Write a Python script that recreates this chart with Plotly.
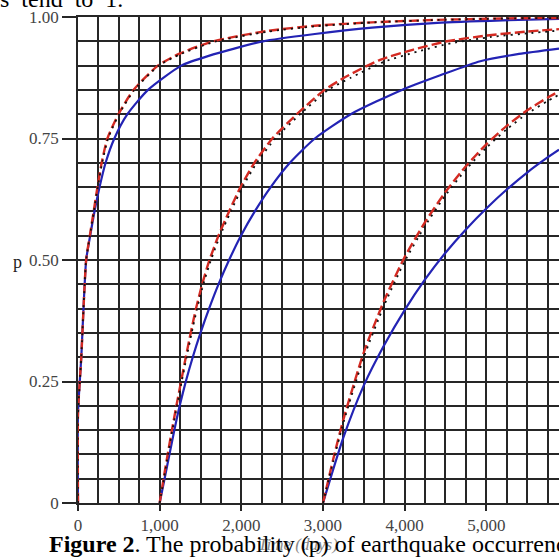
import plotly.graph_objects as go

# ---- data ----
# group 1 (starts at t = 0)
g1_blue_t = [0, 0, 40, 100, 149, 202, 264, 338, 445, 605, 857, 1265, 1600, 2265, 2900, 3600, 4400, 5200, 5890]
g1_blue_p = [0, 0.185, 0.30, 0.50, 0.55, 0.60, 0.65, 0.70, 0.75, 0.80, 0.85, 0.90, 0.92, 0.95, 0.965, 0.978, 0.988, 0.993, 0.996]
g1_red_t = [0, 0, 40, 100, 145, 192, 238, 290, 360, 495, 680, 979, 1250, 1654, 2309, 2900, 3600, 4400, 5200, 5890]
g1_red_p = [0, 0.185, 0.30, 0.50, 0.55, 0.60, 0.65, 0.70, 0.75, 0.80, 0.85, 0.90, 0.925, 0.95, 0.971, 0.982, 0.989, 0.994, 0.997, 0.998]
g1_blk_t = [0, 0, 40, 100, 146, 194, 242, 296, 368, 503, 690, 990, 1262, 1670, 2330, 2920, 3620, 4420, 5220, 5890]
g1_blk_p = [0, 0.18, 0.30, 0.50, 0.55, 0.60, 0.65, 0.70, 0.75, 0.80, 0.85, 0.90, 0.924, 0.949, 0.970, 0.981, 0.989, 0.994, 0.997, 0.998]

# group 2 (starts at t = 1000)
g2_blue_t = [1000, 1060, 1120, 1180, 1245, 1320, 1405, 1500, 1605, 1720, 1850, 1995, 2165, 2360, 2595, 2900, 3340, 3966, 4436, 4926, 5400, 5890]
g2_blue_p = [0, 0.05, 0.10, 0.15, 0.20, 0.25, 0.30, 0.35, 0.40, 0.45, 0.50, 0.55, 0.60, 0.65, 0.70, 0.75, 0.80, 0.85, 0.88, 0.909, 0.924, 0.935]
g2_red_t = [1000, 1048, 1098, 1150, 1205, 1262, 1320, 1380, 1445, 1520, 1610, 1720, 1850, 1990, 2160, 2380, 2680, 3020, 3291, 3699, 4108, 4518, 5009, 5499, 5890]
g2_red_p = [0, 0.05, 0.10, 0.15, 0.20, 0.25, 0.30, 0.35, 0.40, 0.45, 0.50, 0.55, 0.60, 0.65, 0.70, 0.75, 0.80, 0.85, 0.878, 0.912, 0.933, 0.95, 0.962, 0.970, 0.975]
g2_blk_t = [1000, 1052, 1103, 1156, 1212, 1270, 1330, 1392, 1458, 1535, 1628, 1740, 1872, 2015, 2190, 2415, 2720, 3065, 3340, 3750, 4160, 4570, 5060, 5550, 5890]
g2_blk_p = [0, 0.05, 0.10, 0.15, 0.20, 0.25, 0.30, 0.35, 0.40, 0.45, 0.50, 0.55, 0.60, 0.65, 0.70, 0.75, 0.80, 0.85, 0.875, 0.908, 0.929, 0.946, 0.959, 0.967, 0.972]

# group 3 (starts at t = 3000)
g3_blue_t = [3000, 3250, 3500, 3750, 4000, 4250, 4500, 4750, 5000, 5250, 5500, 5750, 5890]
g3_blue_p = [0, 0.135, 0.242, 0.325, 0.397, 0.460, 0.515, 0.563, 0.606, 0.645, 0.680, 0.711, 0.727]
g3_red_t = [3000, 3125, 3250, 3500, 3750, 4000, 4250, 4500, 4750, 5000, 5250, 5500, 5750, 5890]
g3_red_p = [0, 0.090, 0.172, 0.310, 0.417, 0.506, 0.578, 0.640, 0.693, 0.738, 0.776, 0.808, 0.834, 0.847]
g3_blk_t = [3000, 3125, 3250, 3500, 3750, 4000, 4250, 4500, 4750, 5000, 5250, 5500, 5750, 5890]
g3_blk_p = [0, 0.085, 0.165, 0.300, 0.407, 0.497, 0.570, 0.633, 0.686, 0.731, 0.769, 0.801, 0.827, 0.840]

y_tickvals = [0, 0.25, 0.5, 0.75, 1.0]
y_ticktext = ["0", "0.25", "0.50", "0.75", "1.00"]
x_tickvals = [0, 1000, 2000, 3000, 4000, 5000]
x_ticktext = ["0", "1,000", "2,000", "3,000", "4,000", "5,000"]

caption_bold = "Figure 2"
caption_rest = ". The probability (p) of earthquake occurrence"
top_text = "s\u00a0\u00a0tend\u00a0\u00a0to\u00a0\u00a01."
x_title = "Time (days)"
y_title = "p"

W, H = 559, 557
ML, MR, MT, MB = 78, 0, 17, 54
XMAX = 5890

BLUE = "#2323b4"
RED = "#d42a22"
BLACK = "#111111"
GRID = "#262626"
SERIF = "Liberation Serif, Times New Roman, serif"

fig = go.Figure()

groups = [
    (g1_blue_t, g1_blue_p, g1_red_t, g1_red_p, g1_blk_t, g1_blk_p),
    (g2_blue_t, g2_blue_p, g2_red_t, g2_red_p, g2_blk_t, g2_blk_p),
    (g3_blue_t, g3_blue_p, g3_red_t, g3_red_p, g3_blk_t, g3_blk_p),
]
SM = 0.6
for bt, bp, rt, rp, kt, kp in groups:
    fig.add_trace(go.Scatter(x=bt, y=bp, mode="lines",
                             line=dict(color=BLUE, width=2.2, shape="spline", smoothing=SM),
                             showlegend=False, hoverinfo="skip"))
for bt, bp, rt, rp, kt, kp in groups:
    fig.add_trace(go.Scatter(x=rt, y=rp, mode="lines",
                             line=dict(color=RED, width=2.4, dash="10px,4px", shape="spline", smoothing=SM),
                             showlegend=False, hoverinfo="skip"))
for bt, bp, rt, rp, kt, kp in groups:
    fig.add_trace(go.Scatter(x=kt, y=kp, mode="lines",
                             line=dict(color=BLACK, width=1.8, dash="2px,5px", shape="spline", smoothing=SM),
                             showlegend=False, hoverinfo="skip"))

fig.update_xaxes(
    range=[0, XMAX], tickvals=x_tickvals, ticktext=x_ticktext,
    ticks="outside", ticklen=6, tickwidth=1.5, tickcolor=GRID,
    showgrid=True, gridcolor=GRID, gridwidth=1.6,
    minor=dict(dtick=250, tick0=0, showgrid=True, gridcolor=GRID, gridwidth=1.6, ticks=""),
    showline=True, linecolor=GRID, linewidth=1.6, mirror=True,
    zeroline=False,
    tickfont=dict(family=SERIF, size=17, color="#444444"),
)
fig.update_yaxes(
    range=[0, 1], tickvals=y_tickvals, ticktext=y_ticktext,
    ticks="outside", ticklen=14, tickwidth=1.5, tickcolor=GRID,
    showgrid=True, gridcolor=GRID, gridwidth=1.6,
    minor=dict(dtick=0.05, tick0=0, showgrid=True, gridcolor=GRID, gridwidth=1.6, ticks=""),
    showline=True, linecolor=GRID, linewidth=1.6,
    zeroline=False,
    tickfont=dict(family=SERIF, size=17, color="#444444"),
)

pw = W - ML - MR
ph = H - MT - MB

def px_x(x):
    return (x - ML) / pw

def px_y(y):
    return 1 - (y - MT) / ph

annotations = [
    dict(text=y_title, x=px_x(17.5), y=px_y(262), xref="paper", yref="paper",
         xanchor="center", yanchor="middle", showarrow=False,
         font=dict(family=SERIF, size=18, color="#222222")),
    dict(text=x_title, x=px_x(298), y=px_y(544), xref="paper", yref="paper",
         xanchor="center", yanchor="middle", showarrow=False,
         font=dict(family=SERIF, size=17, color="#8a8a8a", style="italic")),
    dict(text="<b>" + caption_bold + "</b>" + caption_rest, x=px_x(47), y=px_y(544),
         xref="paper", yref="paper", xanchor="left", yanchor="middle", showarrow=False,
         font=dict(family=SERIF, size=24, color="#000000")),
    dict(text=top_text, x=px_x(-2), y=px_y(-1), xref="paper", yref="paper",
         xanchor="left", yanchor="middle", showarrow=False,
         font=dict(family=SERIF, size=24, color="#000000")),
]

fig.update_layout(
    width=W, height=H,
    margin=dict(l=ML, r=MR, t=MT, b=MB, pad=0),
    paper_bgcolor="white", plot_bgcolor="white",
    annotations=annotations,
    showlegend=False,
)

fig.write_html(
    "out.html",
    config={"displayModeBar": False},
    post_script="document.body.style.margin='0';document.body.style.padding='0';document.body.style.overflow='hidden';",
)
